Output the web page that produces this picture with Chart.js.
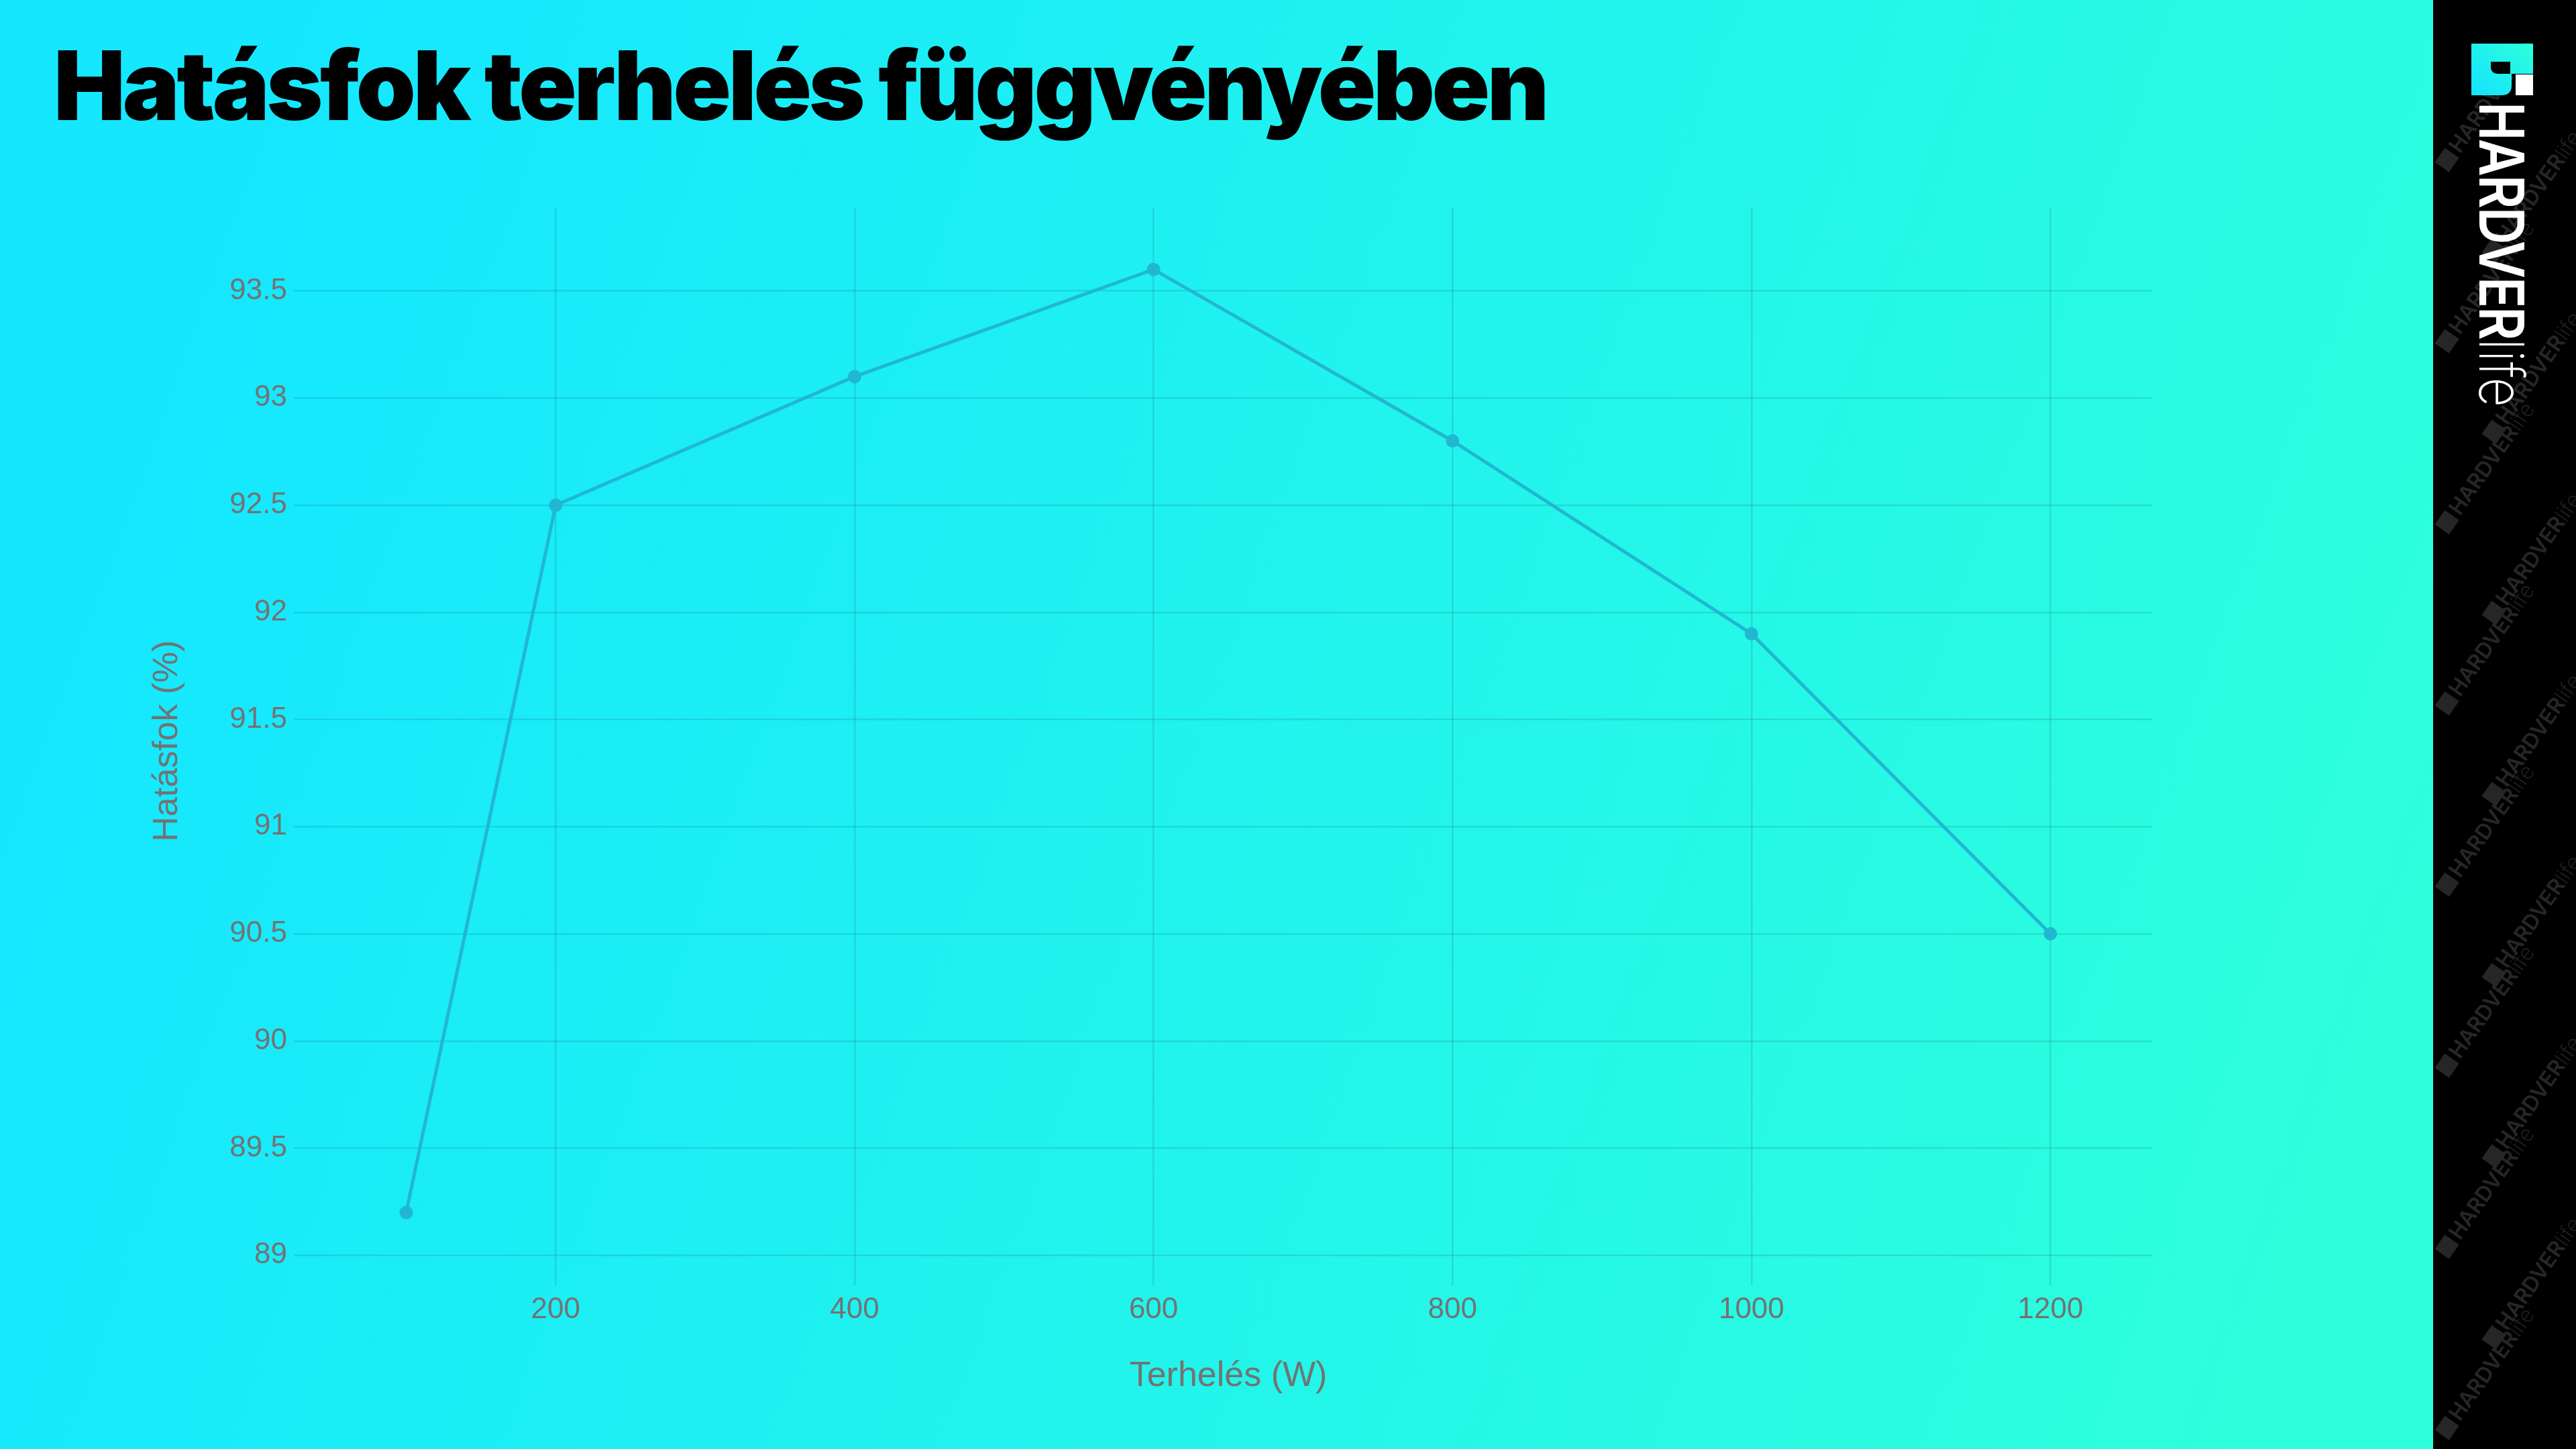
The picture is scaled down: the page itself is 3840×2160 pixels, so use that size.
<!DOCTYPE html>
<html lang="hu">
<head>
    <meta charset="UTF-8">
    <title>Hatásfok terhelés függvényében</title>
    <script src="https://cdn.jsdelivr.net/npm/chart.js"></script>
    <style>
        html, body {
            margin: 0;
            padding: 0;
        }
        body {
            width: 3840px;
            height: 2160px;
            position: relative;
            overflow: hidden;
            background: linear-gradient(110deg, #15e7ff 10%, #2dffdc 90%);
        }
        #title {
            position: absolute;
            left: 80px;
            top: 55px;
            margin: 0;
            font-family: Inter, "Noto Sans", sans-serif;
            font-weight: 900;
            font-size: 143px;
            line-height: 1;
            letter-spacing: -0.03em;
            color: #000;
            white-space: nowrap;
            transform-origin: left top;
        }
        #chartBox {
            position: absolute;
            left: 200px;
            top: 269px;
            width: 3020px;
            height: 1831px;
        }
        #side {
            position: absolute;
            left: 3627px;
            top: 0;
            width: 213px;
            height: 2160px;
            background: #000;
            overflow: hidden;
        }
        .mark {
            position: absolute;
            font-family: Inter, "Liberation Sans", sans-serif;
            font-weight: 600;
            font-size: 32px;
            line-height: 1;
            color: #262626;
            white-space: nowrap;
            transform-origin: left top;
            transform: rotate(-55deg);
        }
        .mark b {
            display: inline-block;
            width: 26px;
            height: 26px;
            margin-right: 5px;
            background: #262626;
            vertical-align: -2px;
        }
        .mark i {
            font-style: normal;
            font-weight: 200;
        }
        #icon {
            position: absolute;
            left: 57px;
            top: 65px;
        }
        #brand {
            position: absolute;
            left: 148px;
            top: 152px;
            font-family: Inter, "Liberation Sans", sans-serif;
            font-size: 92px;
            line-height: 92px;
            height: 92px;
            color: #fff;
            white-space: nowrap;
            transform-origin: left top;
        }
        #brand .b1 { font-weight: 600; letter-spacing: -0.03em; }
        #brand .b2 { font-weight: 200; }
    </style>
</head>
<body>
    <h1 id="title">Hatásfok terhelés függvényében</h1>

    <div id="chartBox">
        <canvas id="effChart"></canvas>
    </div>

    <!-- Logo sidebar -->
    <div id="side">
        <div id="marks"></div>
        <svg id="icon" width="92" height="77" viewBox="0 0 92 77">
            <defs>
                <linearGradient id="logoGrad" x1="1" y1="0" x2="0" y2="1">
                    <stop offset="0" stop-color="#2effdc"/>
                    <stop offset="1" stop-color="#14e2ff"/>
                </linearGradient>
            </defs>
            <path d="M0 0 H92 V45 H60 V62 Q60 77 45 77 H0 Z" fill="url(#logoGrad)"/>
            <path d="M29 27 H58 V45 H40 Q29 45 29 34 Z" fill="#000"/>
            <rect x="66" y="46" width="26" height="31" fill="#fff"/>
        </svg>
        <div id="brand"><span class="b1">HARDVER</span><span class="b2">life</span></div>
    </div>

    <script>
        // Chart data
        const loadW = [100, 200, 400, 600, 800, 1000, 1200];
        const efficiency = [89.2, 92.5, 93.1, 93.6, 92.8, 91.9, 90.5];

        // Tick labels
        const xTickValues = [200, 400, 600, 800, 1000, 1200];
        const yTickValues = [89, 89.5, 90, 90.5, 91, 91.5, 92, 92.5, 93, 93.5];

        // Axis bounds
        const xMin = 32, xMax = 1268;
        const yMin = 88.91, yMax = 93.89;

        const lineColor = '#21b7d1';
        const tickColor = '#737373';
        const gridColor = 'rgba(0, 0, 0, 0.1)';

        // Fit the title to its width in the picture
        const title = document.getElementById('title');
        const titleScale = 2225 / title.offsetWidth;
        title.style.transform = 'scaleX(' + titleScale + ')';

        // Rotated logo text
        const brand = document.getElementById('brand');
        const brandScale = 455 / brand.offsetWidth;
        brand.style.transform = 'rotate(90deg) scaleX(' + brandScale + ')';

        // Faint watermark pattern on the sidebar
        const marks = document.getElementById('marks');
        for (let row = 0; row < 15; row++) {
            const m = document.createElement('div');
            m.className = 'mark';
            m.innerHTML = '<b></b>HARDVER<i>life</i>';
            m.style.left = (row % 2 ? 70 : 0) + 'px';
            m.style.top = (240 + row * 135) + 'px';
            marks.appendChild(m);
        }

        const points = loadW.map((w, i) => ({ x: w, y: efficiency[i] }));

        const ctx = document.getElementById('effChart').getContext('2d');
        new Chart(ctx, {
            type: 'line',
            data: {
                datasets: [{
                    label: 'Hatásfok',
                    data: points,
                    borderColor: lineColor,
                    backgroundColor: lineColor,
                    borderWidth: 5,
                    pointRadius: 10,
                    pointBorderWidth: 0,
                    pointBackgroundColor: lineColor,
                    tension: 0,
                    fill: false
                }]
            },
            options: {
                responsive: true,
                maintainAspectRatio: false,
                devicePixelRatio: 1,
                animation: false,
                layout: {
                    padding: { top: 40, right: 12, left: 0, bottom: 0 }
                },
                plugins: {
                    legend: { display: false },
                    tooltip: { enabled: false }
                },
                scales: {
                    x: {
                        type: 'linear',
                        min: xMin,
                        max: xMax,
                        afterBuildTicks: scale => {
                            scale.ticks = xTickValues.map(v => ({ value: v }));
                        },
                        afterFit: scale => { scale.height = 200; },
                        border: { display: false },
                        grid: {
                            color: gridColor,
                            lineWidth: 2.5,
                            tickLength: 16
                        },
                        ticks: {
                            color: tickColor,
                            padding: 10,
                            font: { family: 'Liberation Sans', size: 44 },
                            callback: v => String(v)
                        },
                        title: {
                            display: true,
                            text: 'Terhelés (W)',
                            color: tickColor,
                            font: { family: 'Liberation Sans', size: 52 },
                            padding: { top: 0, bottom: 17 }
                        }
                    },
                    y: {
                        type: 'linear',
                        min: yMin,
                        max: yMax,
                        afterBuildTicks: scale => {
                            scale.ticks = yTickValues.map(v => ({ value: v }));
                        },
                        afterFit: scale => { scale.width = 254; },
                        border: { display: false },
                        grid: {
                            color: gridColor,
                            lineWidth: 2.5,
                            tickLength: 16
                        },
                        ticks: {
                            color: tickColor,
                            padding: 10,
                            font: { family: 'Liberation Sans', size: 44 },
                            callback: v => String(v)
                        },
                        title: {
                            display: true,
                            text: 'Hatásfok (%)',
                            color: tickColor,
                            font: { family: 'Liberation Sans', size: 52 },
                            padding: { top: 18, bottom: 0 }
                        }
                    }
                }
            }
        });
    </script>
</body>
</html>
